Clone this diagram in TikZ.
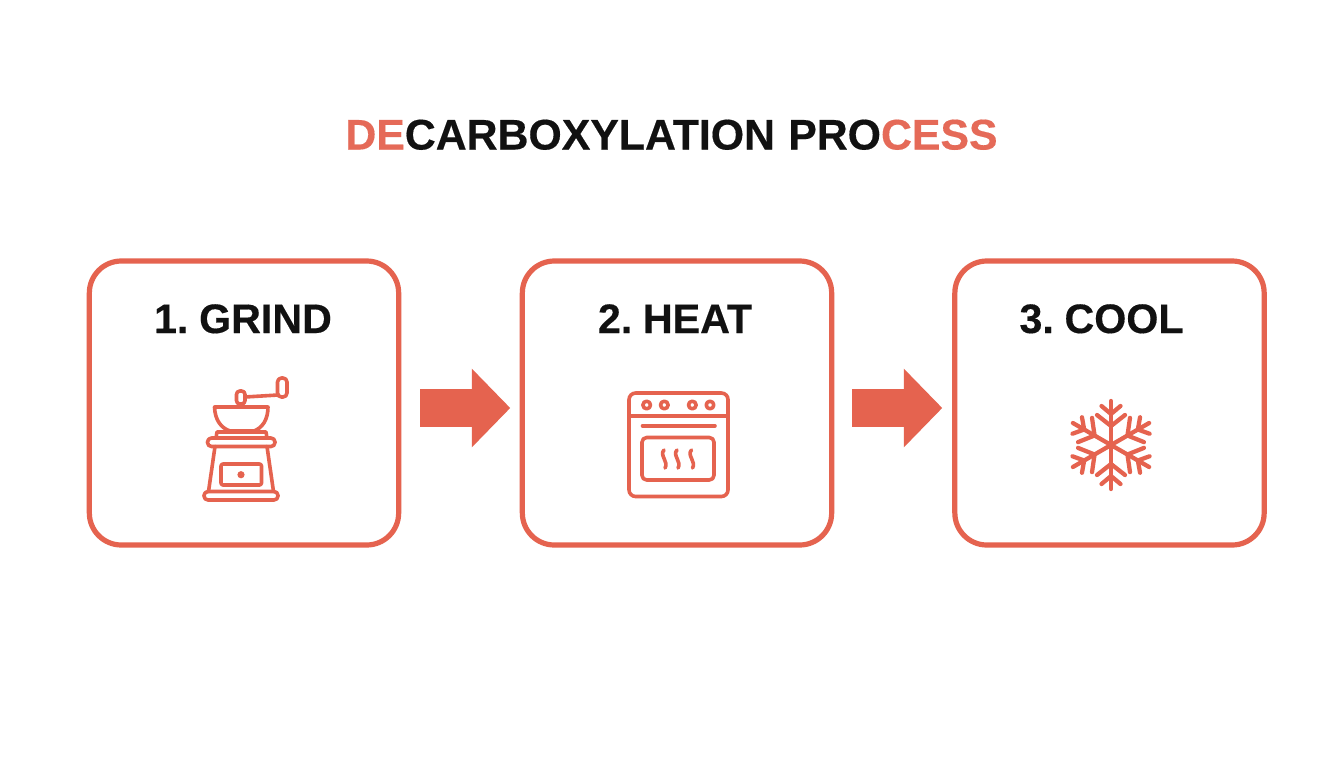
\documentclass[tikz,border=0pt]{standalone}
\usepackage{fontspec}
\setmainfont[WordSpace=0.6,BoldFeatures={FakeBold=0.35}]{Liberation Sans}
\usetikzlibrary{shapes.arrows}
\definecolor{brand}{HTML}{E5634F}
\definecolor{titlered}{HTML}{E56A58}
\definecolor{ink}{HTML}{111111}
\tikzset{
  stepbox/.style={draw=brand,line width=3.9pt,rounded corners=24pt,minimum width=232pt,minimum height=213pt,inner sep=0pt},
  steplabel/.style={anchor=base,text=ink,font=\fontsize{30.9}{32}\selectfont\bfseries,inner sep=0pt},
  titletext/.style={anchor=base,text=ink,font=\fontsize{32.1}{34}\selectfont\bfseries,inner sep=0pt},
  flowarrow/.style={single arrow,fill=brand,draw=none,inner xsep=0pt,inner ysep=13.9pt,minimum height=67.5pt,single arrow head extend=15.4pt,single arrow tip angle=91.5},
  icon/.style={draw=brand,line width=2.7pt,line cap=round,line join=round},
  thickicon/.style={draw=brand,line width=3.2pt,line cap=round,line join=round},
}
\begin{document}
\begin{tikzpicture}[x=0.75pt,y=-0.75pt]
\useasboundingbox (0,0) rectangle (1344,768);
\fill[white] (0,0) rectangle (1344,768);
\node[titletext] (title) at (671.5,149.5) {{\color{titlered}DE}CARBOXYLATION\hspace{4.6pt} PRO{\color{titlered}CESS}};
\node[stepbox] (box1) at (244,403) {};
\node[stepbox] (box2) at (677,403) {};
\node[stepbox] (box3) at (1109.5,403) {};
\node[steplabel] (label1) at (243,333) {1. GRIND};
\node[steplabel] (label2) at (675,333) {2. HEAT};
\node[steplabel] (label3) at (1101.5,333) {3. COOL};
\node[flowarrow] (arrow1) at (456,408) {};
\node[flowarrow] (arrow2) at (888,408) {};
% grinder
\draw[icon,rounded corners=2.5pt] (236.5,391) rectangle (245,404);
\draw[icon] (241,404) -- (241,407);
\draw[icon] (245,397) -- (278,395);
\draw[icon,rounded corners=3pt] (277.5,397) -- (277.5,378) -- (287,378) -- (287,397) -- cycle;
\draw[icon] (214.5,407) -- (268,407) .. controls (268,420) and (262,428) .. (254,431) -- (230,431) .. controls (221,428) and (215,420) .. (214.5,407) -- cycle;
\draw[icon] (216,438) -- (217,432) -- (266,432) -- (267,438);
\draw[icon,rounded corners=3pt] (207.5,438) rectangle (275,446.5);
\draw[icon] (215,446.5) -- (208.5,491.5);
\draw[icon] (267,446.5) -- (273.5,491.5);
\draw[icon,rounded corners=1.5pt] (221,464) rectangle (261.5,485);
\fill[brand] (241,474.7) circle (3.6);
\draw[icon,rounded corners=3pt] (204,491.5) rectangle (278,500);
% oven
\draw[icon,rounded corners=5pt] (629,393) rectangle (728,496.5);
\draw[icon] (629,416) -- (728,416);
\foreach \cx in {646.7,664.3,692.3,710} \draw[icon] (\cx,405) circle (3.8);
\draw[icon] (642.5,425.7) -- (715,425.7);
\draw[icon,rounded corners=3.5pt] (642,437.5) rectangle (714,480);
\foreach \wx in {664,677,691.5}
  \draw[icon] (\wx,450) .. controls (\wx-5,455) and (\wx+5,462) .. (\wx+1,468);
% snowflake
\foreach \ang in {0,60,...,300}{
  \begin{scope}[shift={(1111,445)},rotate=\ang]
    \draw[thickicon] (0,0) -- (0,-44);
    \draw[thickicon] (-9.5,-39) -- (0,-31) -- (9.5,-39);
    \draw[thickicon] (-14,-30) -- (0,-19) -- (14,-30);
  \end{scope}
}
\end{tikzpicture}
\end{document}
